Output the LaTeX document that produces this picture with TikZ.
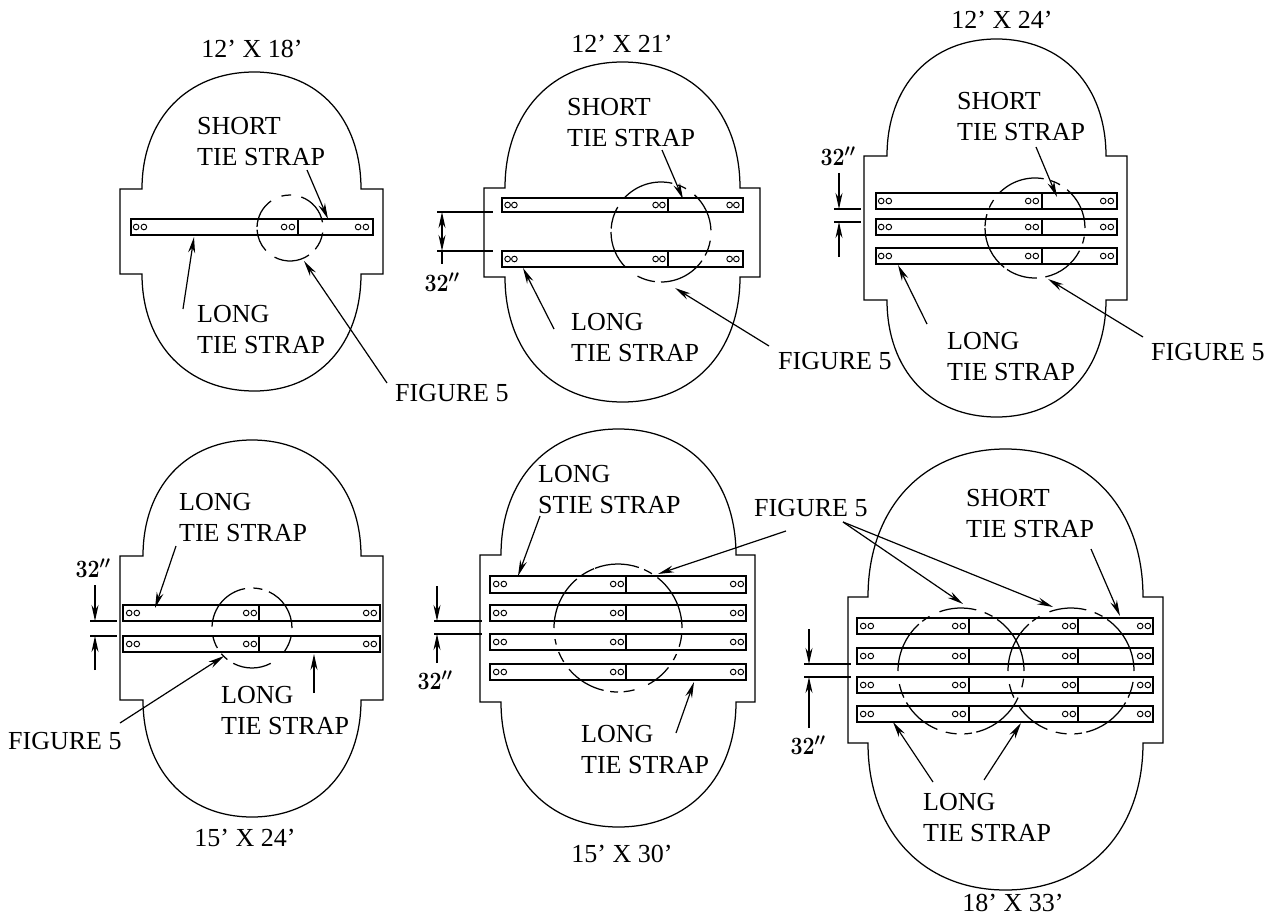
\documentclass[tikz,border=0pt]{standalone}
\usepackage{fontspec}
\usepackage{graphicx}
\newfontfamily\timesf{Liberation Serif}
\usetikzlibrary{arrows.meta}
\tikzset{
  plateline/.style={line width=1.25pt,line join=miter},
  strapline/.style={line width=1.8pt},
  thin line/.style={line width=1.25pt},
  holeline/.style={line width=0.95pt},
  lead/.style={line width=1.2pt,-{Stealth[length=16pt,width=7pt]}},
  lab/.style={inner sep=0pt,anchor=west,align=left,yshift=-0.7pt,font=\timesf\fontsize{26}{31}\selectfont},
  ttl/.style={inner sep=0pt,anchor=center,font=\timesf\fontsize{26}{31}\selectfont},
  dimtext/.style={inner sep=0pt,anchor=center,font=\fontsize{27}{27}\selectfont}
}
\newcommand{\dimlab}{\scalebox{0.86}[1]{\boldmath$32''$}}
\def\pshift{0}
\newcommand{\plate}[8]{%
  \pgfmathsetmacro{\pc}{(#2+#3)/2+\pshift}\pgfmathsetmacro{\pk}{0.6}%
  \pgfmathsetmacro{\ax}{\pc-\pk*(\pc-#2)}\pgfmathsetmacro{\bx}{\pc+\pk*(#3-\pc)}%
  \pgfmathsetmacro{\ay}{#5-\pk*(#5-#7)}\pgfmathsetmacro{\by}{#6+\pk*(#8-#6)}%
  \draw[plateline] (#1,#5) -- (#2,#5) .. controls (#2,\ay) and (\ax,#7) .. (\pc,#7)
    .. controls (\bx,#7) and (#3,\ay) .. (#3,#5) -- (#4,#5) -- (#4,#6) -- (#3,#6)
    .. controls (#3,\by) and (\bx,#8) .. (\pc,#8)
    .. controls (\ax,#8) and (#2,\by) .. (#2,#6) -- (#1,#6) -- cycle;}
\newcommand{\strap}[5]{%
  \draw[strapline] (#1,#2) rectangle (#3,#4);
  \foreach \dv in {#5} {\draw[thin line] (\dv,#2) -- (\dv,#4);}}
\newcommand{\holes}[3]{%
  \foreach \hx in {#1} {\foreach \hy in {#2} {
    \draw[holeline] (\hx-#3,\hy) circle[radius=2.8pt];
    \draw[holeline] (\hx+#3,\hy) circle[radius=2.8pt];}}}
\newcommand{\dcirc}[4]{%
  \foreach \sa/\sb in {#4} {
    \draw[thin line] (#1,#2) ++(\sa:#3 pt) arc[start angle=\sa,end angle=\sb,radius=#3 pt];}}
\newcommand{\arr}[3]{%
  \coordinate (#1a) at (#2); \coordinate (#1b) at (#3);
  \draw[lead] (#1a) -- (#1b);}
\newcommand{\extl}[3]{%
  \coordinate (#1a) at (#2); \coordinate (#1b) at (#3);
  \draw[thin line] (#1a) -- (#1b);}
\begin{document}
\begin{tikzpicture}[x=1pt,y=-1pt]
\useasboundingbox (0,0) rectangle (1283,915);
\fill[white] (0,0) rectangle (1283,915);
% ---------- 12 X 18
\def\pshift{3}
\plate{120}{142}{361}{383}{189}{274}{72}{391}
\def\pshift{0}
\strap{131}{219}{373}{235}{298}
\holes{140,288,362}{227}{3.9}
\dcirc{290}{228}{33}{125/178,88/105,10/70,-40/-8,-118/-55,183/223}
\node[ttl] (t1) at (252,49) {12’ X 18’};
\node[lab] (s1) at (197,141) {SHORT\\TIE STRAP};
\node[lab] (l1) at (197,329) {LONG\\TIE STRAP};
\node[lab] (f1) at (395,392) {FIGURE 5};
\arr{as1}{307,170}{328,219}
\arr{al1}{183,309}{194,237}
\arr{af1}{387,383}{304,261}
% ---------- 12 X 21
\plate{484}{505}{740}{760}{188}{277}{62}{402}
\strap{502}{198}{743}{212}{668}
\strap{502}{251}{743}{267}{668}
\holes{511,659,733}{205,259}{3.4}
\dcirc{661}{232}{50}{77/137,60/70,2/48,-28/-10,-90/-35,-118/-97,180/225,150/176}
\node[ttl] (t2) at (622,44) {12’ X 21’};
\node[lab] (s2) at (567,122) {SHORT\\TIE STRAP};
\node[lab] (l2) at (571,337) {LONG\\TIE STRAP};
\node[lab] (f2) at (778,360) {FIGURE 5};
\arr{as2}{662,150}{683,199}
\arr{al2}{554,329}{523,268}
\arr{af2}{769,346}{675,288}
\extl{e2a}{437,212}{493,212}
\extl{e2b}{437,251}{493,251}
\coordinate (d2m) at (442,231.5);
\coordinate (d2t) at (442,212);
\coordinate (d2b) at (442,251);
\coordinate (d2e) at (442,264);
\draw[lead] (d2m) -- (d2t);
\draw[lead] (d2m) -- (d2b);
\draw[thin line] (d2b) -- (d2e);
\node[dimtext] (d2) at (442,282) {\dimlab};
% ---------- 12 X 24
\plate{864}{887}{1106}{1127}{156}{300}{39}{417}
\strap{876}{193}{1117}{209}{1042}
\strap{876}{219}{1117}{235}{1042}
\strap{876}{248}{1117}{264}{1042}
\holes{885,1032,1107}{201,227,256}{3.8}
\dcirc{1035}{228}{50}{80/136,60/72,0/50,-18/-10,-78/-27,-124/-88,180/232,164/178,146/156}
\node[ttl] (t3) at (1002,20) {12’ X 24’};
\node[lab] (s3) at (957,116) {SHORT\\TIE STRAP};
\node[lab] (l3) at (947,356) {LONG\\TIE STRAP};
\node[lab] (f3) at (1151,351) {FIGURE 5};
\arr{as3}{1036,147}{1057,197}
\arr{al3}{927,324}{898,265}
\arr{af3}{1143,337}{1048,279}
\extl{e3a}{834,209}{861,209}
\extl{e3b}{834,222}{861,222}
\arr{d3t}{839,173}{839,209}
\arr{d3b}{839,257}{839,222}
\node[dimtext] (d3) at (838,156) {\dimlab};
% ---------- 15 X 24
\plate{120}{143}{361}{383}{556}{700}{440}{817}
\strap{123}{605}{380}{621}{259}
\strap{123}{636}{380}{652}{259}
\holes{133,250,370}{613,644}{3.8}
\dcirc{252}{628}{40}{100/178,75/88,0/65,-35/-13,-118/-62,-140/-128,-168/-150}
\node[ttl] (t4) at (245,838) {15’ X 24’};
\node[lab] (l4a) at (179,517) {LONG\\TIE STRAP};
\node[lab] (l4b) at (221,710) {LONG\\TIE STRAP};
\node[lab] (f4) at (8,740) {FIGURE 5};
\arr{al4a}{176,546}{155,608}
\arr{al4b}{314,693}{314,654}
\arr{af4}{120,723}{224,656}
\extl{e4a}{90,621}{117,621}
\extl{e4b}{90,636}{117,636}
\arr{d4t}{95,585}{95,621}
\arr{d4b}{95,670}{95,636}
\node[dimtext] (d4) at (93,568) {\dimlab};
% ---------- 15 X 30
\plate{480}{501}{736}{755}{555}{702}{429}{827}
\strap{490}{576}{746}{593}{626}
\strap{490}{605}{746}{621}{626}
\strap{490}{634}{746}{650}{626}
\strap{490}{664}{746}{680}{626}
\holes{500,617,737}{584,613,642,672}{3.8}
\dcirc{618}{628}{64}{130/180,112/125,71/111,58/66,0/52,-17/-5,-30/-24,-62/-38,-85/-75,-97/-90,-140/-103,-158/-148,-170/-165}
\node[ttl] (t5) at (622,854) {15’ X 30’};
\node[lab] (l5a) at (538,489) {LONG\\STIE STRAP};
\node[lab] (l5b) at (581,749) {LONG\\TIE STRAP};
\node[lab] (f5) at (754,507) {FIGURE 5};
\arr{al5a}{540,516}{518,576}
\arr{af5}{786,531}{658,574}
\arr{al5b}{676,733}{694,682}
\extl{e5a}{434,621}{482,621}
\extl{e5b}{434,634}{482,634}
\arr{d5t}{437,586}{437,621}
\arr{d5b}{437,663}{437,634}
\node[dimtext] (d5) at (435,680) {\dimlab};
% ---------- 18 X 33
\plate{848}{868}{1143}{1163}{597}{743}{449}{890}
\strap{857}{618}{1153}{634}{969,1078}
\strap{857}{648}{1153}{664}{969,1078}
\strap{857}{677}{1153}{693}{969,1078}
\strap{857}{706}{1153}{722}{969,1078}
\holes{867,959,1069,1144}{626,656,685,714}{3.8}
\dcirc{961}{671}{63}{132/180,120/128,76/110,60/68,0/55,-15/-7,-76/-25,-87/-80,-104/-94,-150/-112,-168/-155}
\dcirc{1071}{671}{63}{132/180,120/128,76/110,60/68,0/55,-25/-10,-76/-30,-87/-80,-104/-94,-145/-112,-168/-155}
\node[ttl] (t6) at (1013,902.5) {18’ X 33’};
\node[lab] (s6) at (966,513) {SHORT\\TIE STRAP};
\node[lab] (l6) at (923,817) {LONG\\TIE STRAP};
\arr{af6a}{843,522}{963,604}
\arr{af6b}{843,522}{1053,607}
\arr{al6a}{933,782}{893,722}
\arr{al6b}{984,780}{1021,723}
\arr{as6}{1091,549}{1120,616}
\extl{e6a}{804,664}{851,664}
\extl{e6b}{804,677}{851,677}
\arr{d6t}{809,629}{809,664}
\arr{d6b}{809,728}{809,677}
\node[dimtext] (d6) at (808,745) {\dimlab};
\end{tikzpicture}
\end{document}
